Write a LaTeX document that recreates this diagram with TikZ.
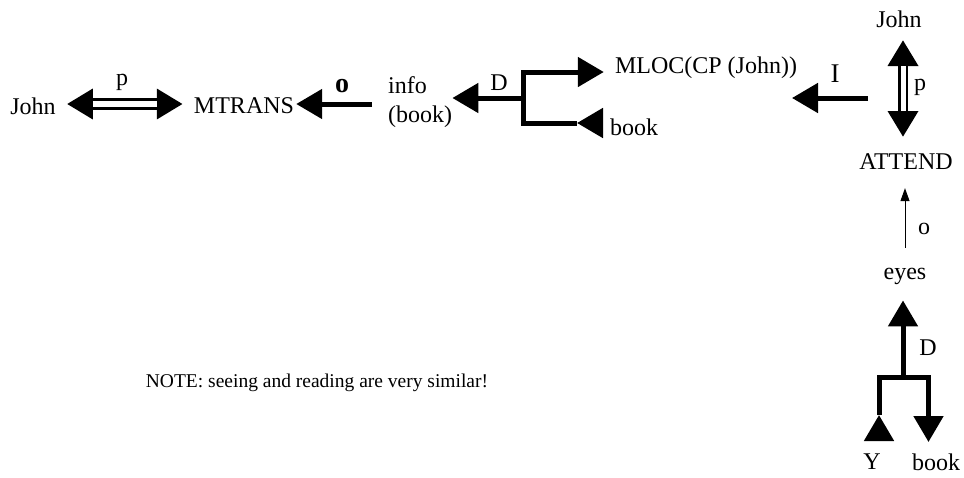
\documentclass[tikz,border=0pt]{standalone}
\usepackage{fontspec}
\setmainfont{Liberation Serif}
\usetikzlibrary{arrows.meta}
\begin{document}
\begin{tikzpicture}[x=1pt,y=-1pt,
  lbl/.style={inner sep=0pt, font=\fontsize{24}{29}\selectfont},
  heavy/.style={line width=5pt},
  bigtip/.tip={Triangle[length=26pt,width=29pt]},
  bigarrow/.style={heavy, -bigtip},
  thinarrow/.style={line width=1pt, -{Triangle[length=13pt,width=9pt]}},
]
\useasboundingbox[fill=white] (0,0) rectangle (964,477);

% concepts
\node[lbl] (johnL) at (33,106) {John};
\node[lbl] (mtrans) at (244,106) {MTRANS};
\node[lbl, anchor=west, align=left] (info) at (388,102) {info\\(book)};
\node[lbl] (mloc) at (706,68) {MLOC(CP (John))};
\node[lbl] (book1) at (634,127) {book};
\node[lbl] (johnT) at (899,19) {John};
\node[lbl] (attend) at (906,162) {ATTEND};
\node[lbl] (eyes) at (905,276) {eyes};
\node[lbl] (yy) at (872,462) {Y};
\node[lbl] (book2) at (936,462) {book};
\node[inner sep=0pt, font=\fontsize{19.5}{23}\selectfont] (note) at (317,383)
  {NOTE: seeing and reading are very similar!};

% link labels
\node[lbl] (lp1) at (122,82) {p};
\node[lbl, font=\fontsize{28}{30}\selectfont\bfseries] (lo1) at (342,86) {o};
\node[lbl] (lD1) at (499,83) {D};
\node[lbl, font=\fontsize{27}{30}\selectfont] (lI) at (835,74) {I};
\node[lbl] (lp2) at (920,87) {p};
\node[lbl] (lo2) at (924,229) {o};
\node[lbl] (lD2) at (928,348) {D};

% John <=> MTRANS (double link)
\draw[line width=12pt, bigtip-bigtip, shorten <=11pt, shorten >=11pt]
  ([yshift=2pt]johnL.east) -- ([yshift=2pt]mtrans.west);
\draw[white, line width=6pt, shorten <=37pt, shorten >=37pt]
  ([yshift=2pt]johnL.east) -- ([yshift=2pt]mtrans.west);

% object link into MTRANS
\coordinate (o1) at (372,104);
\draw[bigarrow, shorten >=2pt] (o1) -- ([yshift=2pt]mtrans.east);

% direction fork: to MLOC, from book
\coordinate (f1) at (523,98);
\coordinate (bt) at (577,123);
\draw[bigarrow] (f1) -- (info.east |- f1);
\draw[bigarrow, shorten >=11pt] (f1) |- ([yshift=-4pt]mloc.west);
\draw[heavy] (f1) |- (bt);
\draw[bigarrow, shorten <=7pt] (book1.west |- bt) -- (bt);

% instrument link
\coordinate (i1) at (868,98);
\coordinate (i2) at (792,98);
\draw[bigarrow] (i1) -- (i2);

% John <=> ATTEND (double link)
\coordinate (vt) at (903,40);
\coordinate (vb) at (903,137);
\draw[line width=10pt, bigtip-bigtip] (vt) -- (vb);
\draw[white, line width=5pt, shorten <=26pt, shorten >=26pt] (vt) -- (vb);

% eyes -> ATTEND
\draw[thinarrow, shorten <=20pt, shorten >=18pt] (eyes.north) -- (eyes.north |- attend.south);

% direction fork below eyes
\coordinate (bm) at (903,377);
\coordinate (lt) at (879,415);
\coordinate (br) at (928.5,377);
\coordinate (rt) at (928.5,442);
\draw[bigarrow, shorten >=16pt] (bm) -- (bm |- eyes.south);
\draw[bigarrow] (lt) |- (br) -- (rt);
\draw[bigarrow, shorten <=13pt] (yy.north -| lt) -- (lt);
\end{tikzpicture}
\end{document}
